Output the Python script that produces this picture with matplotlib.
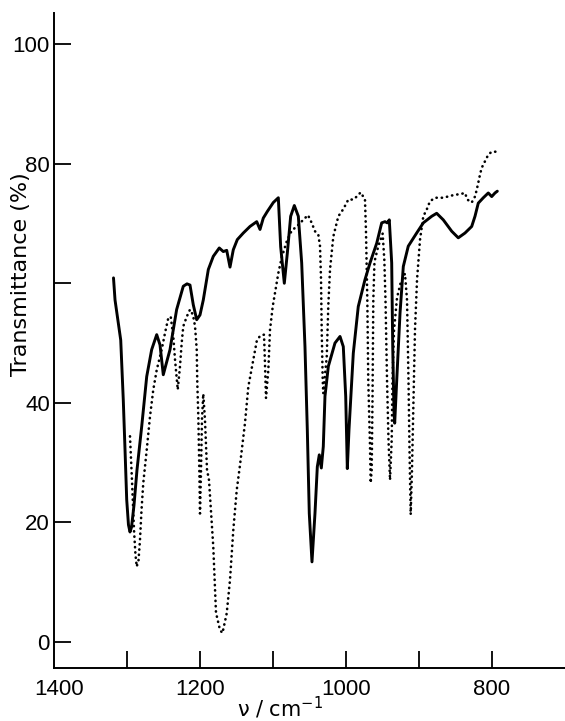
import matplotlib
matplotlib.use("Agg")
import matplotlib.pyplot as plt
from matplotlib import font_manager

# ---------------- data ----------------
solid_wn = [1318.5, 1316.4, 1308.6, 1305.1, 1302.7, 1300.4, 1298.0, 1295.9, 1293.8, 1290.4,
            1286.3, 1279.9, 1273.0, 1266.2, 1259.3, 1254.8, 1250.3, 1246.6, 1241.1, 1232.0,
            1222.9, 1217.8, 1213.7, 1209.2, 1204.5, 1200.0, 1195.5, 1188.6, 1181.8, 1173.6,
            1168.1, 1163.4, 1158.9, 1154.4, 1148.9, 1140.7, 1131.5, 1122.3, 1117.8, 1113.3,
            1107.8, 1099.6, 1092.7, 1089.5, 1084.5, 1080.4, 1075.8, 1070.8, 1065.3, 1060.7,
            1056.2, 1053.0, 1050.3, 1046.6, 1042.5, 1039.3, 1036.6, 1033.8, 1031.1, 1028.8,
            1024.2, 1015.1, 1008.2, 1003.7, 1000.4, 998.2, 995.9, 990.0, 983.2, 974.0,
            967.1, 957.9, 951.1, 946.6, 943.4, 940.7, 937.4, 936.0, 934.2, 933.3,
            930.5, 926.0, 921.5, 914.7, 903.2, 894.1, 882.6, 875.8, 866.7, 855.2,
            846.2, 837.0, 827.8, 823.3, 818.8, 811.9, 805.1, 800.4, 795.9, 792.7]
solid_T = [60.9, 57.2, 50.5, 40.5, 32.1, 23.8, 19.6, 18.4, 19.2, 22.9,
           28.8, 36.0, 44.4, 48.9, 51.4, 49.7, 44.7, 46.4, 48.9, 55.6,
           59.5, 59.9, 59.7, 56.4, 53.9, 54.7, 57.2, 62.3, 64.5, 65.9,
           65.3, 65.5, 62.7, 65.6, 67.3, 68.4, 69.5, 70.3, 69.0, 70.9,
           72.0, 73.5, 74.3, 66.1, 60.0, 65.0, 71.2, 73.0, 71.2, 63.4,
           49.4, 35.5, 21.5, 13.4, 21.5, 29.3, 31.3, 29.1, 32.7, 41.1,
           46.1, 50.0, 51.1, 49.4, 41.1, 29.0, 35.5, 48.3, 56.1, 60.6,
           63.4, 66.7, 70.1, 70.3, 70.1, 70.6, 63.4, 49.4, 38.3, 36.6,
           43.8, 55.0, 62.8, 66.2, 68.4, 70.1, 71.2, 71.7, 70.6, 68.7,
           67.6, 68.4, 69.5, 71.2, 73.4, 74.3, 75.1, 74.5, 75.1, 75.4]

dotted_wn = [1295.9, 1293.2, 1290.4, 1288.4, 1286.7, 1284.2, 1282.2, 1280.1, 1277.7, 1273.0,
             1268.5, 1264.0, 1259.3, 1252.5, 1247.9, 1243.4, 1240.1, 1236.6, 1234.2, 1230.5,
             1227.4, 1225.1, 1222.9, 1218.2, 1213.7, 1209.6, 1206.8, 1204.5, 1203.7, 1202.3,
             1201.0, 1200.0, 1198.6, 1197.3, 1195.5, 1193.2, 1190.4, 1187.7, 1181.8, 1178.1,
             1172.6, 1169.2, 1163.4, 1158.9, 1154.4, 1149.7, 1145.2, 1138.4, 1133.8, 1127.0,
             1122.3, 1117.8, 1112.3, 1111.0, 1109.6, 1106.4, 1104.1, 1100.4, 1097.3, 1092.7,
             1088.1, 1081.2, 1074.4, 1067.5, 1058.5, 1052.1, 1047.0, 1042.5, 1037.9, 1035.6,
             1034.2, 1033.3, 1031.9, 1031.1, 1026.4, 1024.2, 1021.9, 1017.4, 1010.5, 1003.7,
             996.8, 990.0, 985.3, 979.9, 974.0, 972.6, 970.8, 969.5, 967.1, 966.2,
             964.8, 963.7, 962.6, 961.0, 955.8, 949.8, 947.5, 945.9, 943.8, 941.8,
             939.7, 937.4, 936.3, 934.2, 930.1, 924.7, 919.2, 916.4, 914.4, 913.0,
             911.4, 909.6, 907.5, 905.5, 902.7, 898.6, 894.1, 889.5, 885.0, 878.1,
             866.7, 857.5, 850.7, 843.8, 837.0, 833.8, 827.8, 823.3, 821.0, 818.8,
             816.4, 814.1, 809.6, 805.1, 800.4, 795.0]
dotted_T = [34.4, 27.1, 18.7, 14.6, 12.6, 13.7, 17.1, 22.1, 26.6, 32.1,
            37.7, 42.2, 45.5, 48.9, 51.7, 54.2, 54.4, 51.1, 47.2, 42.2,
            46.1, 50.0, 52.8, 54.4, 55.6, 54.7, 52.8, 48.9, 43.3, 37.7,
            29.3, 21.5, 28.8, 37.2, 41.5, 37.2, 28.8, 27.1, 15.9, 4.9,
            2.0, 1.5, 4.8, 10.4, 18.7, 25.4, 29.6, 36.6, 42.7, 47.2,
            50.3, 51.2, 51.4, 46.6, 40.8, 45.5, 52.2, 56.1, 58.4, 61.7,
            64.3, 67.0, 68.8, 69.5, 70.6, 71.4, 70.1, 68.7, 68.1, 66.2,
            60.6, 52.2, 43.8, 41.6, 47.7, 56.4, 62.3, 67.8, 71.2, 72.4,
            74.0, 74.0, 74.5, 75.2, 74.0, 68.5, 57.2, 43.8, 32.7, 26.6,
            28.8, 40.5, 57.2, 63.6, 66.2, 68.3, 63.9, 57.2, 43.8, 33.8,
            27.1, 33.8, 43.8, 52.2, 57.6, 60.3, 61.6, 57.2, 43.8, 32.1,
            21.3, 28.8, 40.5, 52.2, 60.6, 67.3, 71.2, 72.3, 73.7, 74.3,
            74.3, 74.6, 74.8, 74.9, 75.1, 74.0, 73.5, 74.5, 75.6, 76.8,
            78.2, 79.3, 80.4, 81.5, 82.0, 82.0]

x_ticks = [1300, 1200, 1100, 1000, 900, 800]
x_ticklabels = ["", "1200", "", "1000", "", "800"]
y_ticks = [0, 20, 40, 60, 80, 100]
y_ticklabels = ["0", "20", "40", "", "80", "100"]

# ---------------- fonts ----------------
names = {f.name for f in font_manager.fontManager.ttflist}
narrow = "Liberation Sans Narrow" if "Liberation Sans Narrow" in names else "Liberation Sans"
tick_font = [narrow, "DejaVu Sans"]
label_font = ["DejaVu Sans"]

# ---------------- figure ----------------
fig = plt.figure(figsize=(5.65, 7.21), dpi=100)
ax = fig.add_axes([54 / 565, 1 - 668 / 721, 1 - 54 / 565, (668 - 13) / 721])

ax.plot(solid_wn, solid_T, color="black", lw=2.1, solid_joinstyle="round",
        solid_capstyle="round")
ax.plot(dotted_wn, dotted_T, color="black", lw=1.9, linestyle=(0, (0.1, 1.9)),
        dash_capstyle="round")

ax.set_xlim(1400, 700)
ax.set_ylim(-4.35, 105.2)

for s in ("top", "right"):
    ax.spines[s].set_visible(False)
for s in ("left", "bottom"):
    ax.spines[s].set_linewidth(1.4)

ax.set_xticks(x_ticks)
ax.set_xticklabels(x_ticklabels)
ax.set_yticks(y_ticks)
ax.set_yticklabels(y_ticklabels)
ax.tick_params(axis="both", direction="in", length=12, width=1.3, labelsize=16)
ax.tick_params(axis="x", pad=8)
ax.tick_params(axis="y", pad=3)
for lab in ax.get_xticklabels() + ax.get_yticklabels():
    lab.set_family(tick_font)

# label "1400" at the axis origin (no tick there)
ax.text(1393, -0.017, "1400", transform=ax.get_xaxis_transform(), ha="center",
        va="top", fontsize=16, family=tick_font)

fig.text(21 / 565, 1 - 274 / 721, "Transmittance (%)", rotation=90, ha="center",
         va="center", fontsize=16, family=label_font)
fig.text(280 / 565, 1 - 717 / 721, "ν / cm$^{-1}$", ha="center", va="baseline",
         fontsize=15, family=label_font)

fig.savefig("out.png", dpi=100)
